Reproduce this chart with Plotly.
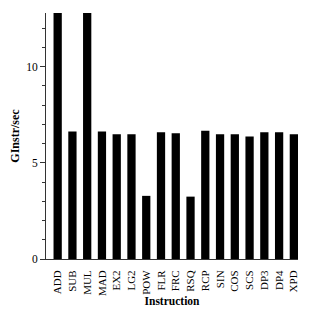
import plotly.graph_objects as go

instructions = ["ADD", "SUB", "MUL", "MAD", "EX2", "LG2", "POW", "FLR", "FRC",
                "RSQ", "RCP", "SIN", "COS", "SCS", "DP3", "DP4", "XPD"]
ginstr_per_sec = [13.2, 6.63, 13.2, 6.63, 6.48, 6.48, 3.28, 6.58, 6.53,
                  3.24, 6.66, 6.48, 6.48, 6.37, 6.58, 6.58, 6.48]

font_family = "Liberation Serif"

fig = go.Figure(go.Bar(
    x=list(range(len(instructions))),
    y=ginstr_per_sec,
    width=0.56,
    marker=dict(color="black", line=dict(width=0)),
))

fig.update_layout(
    width=320, height=316,
    margin=dict(l=46, r=22, t=13, b=57),
    paper_bgcolor="white", plot_bgcolor="white",
    showlegend=False,
    font=dict(family=font_family, size=11, color="black"),
    xaxis=dict(
        range=[-0.79, 16.28],
        tickmode="array",
        tickvals=list(range(len(instructions))),
        ticktext=instructions,
        tickangle=-90,
        tickfont=dict(size=11),
        showline=True, linecolor="#333", linewidth=1,
        ticks="",
        showgrid=False, zeroline=False,
        automargin=False,
        ticklabelstandoff=6,
        title=dict(text="<b>Instruction</b>", font=dict(size=11.5), standoff=0),
    ),
    yaxis=dict(
        range=[0, 12.78],
        dtick=5, tick0=0,
        ticks="outside", ticklen=5, tickcolor="#333",
        tickfont=dict(size=11.5),
        minor=dict(dtick=1, ticks="outside", ticklen=3, tickcolor="#333"),
        showline=True, linecolor="#333", linewidth=1,
        showgrid=False, zeroline=False,
        automargin=False,
        title=dict(text="<b>GInstr/sec</b>", font=dict(size=12), standoff=4),
    ),
)

fig.write_html("out.html")
